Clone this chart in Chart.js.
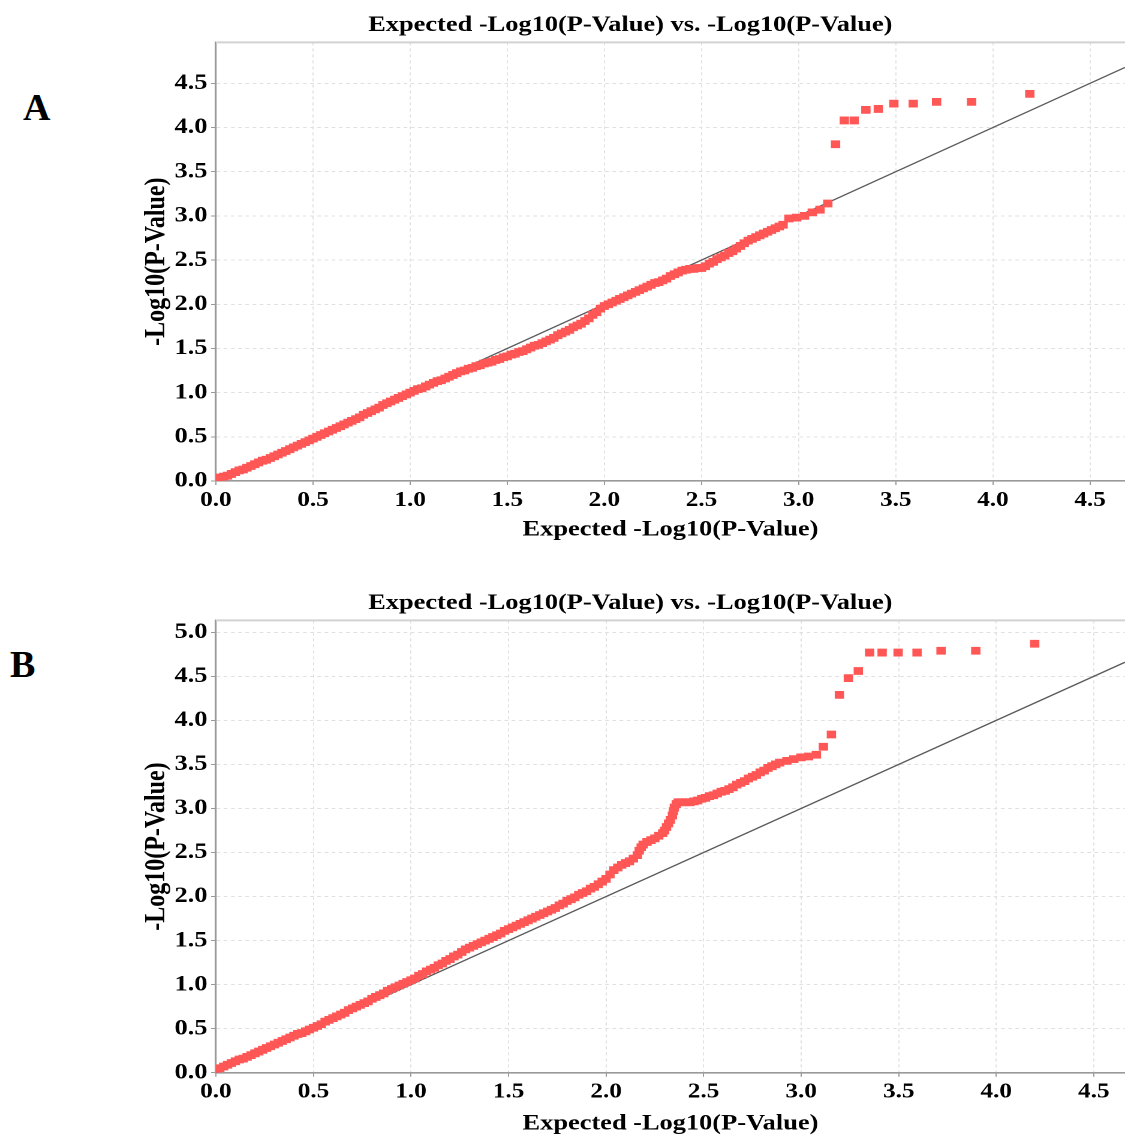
<!DOCTYPE html>
<html>
<head>
<meta charset="utf-8">
<script src="https://cdn.jsdelivr.net/npm/chart.js@4.4.1/dist/chart.umd.min.js"></script>
<style>
  html, body { margin: 0; padding: 0; background: #fff; width: 1125px; height: 1137px; overflow: hidden; }
  .panel { position: absolute; left: 0; width: 938px; height: 560px; transform-origin: 0 0; transform: scaleX(1.19936); }
  .tag { position: absolute; font: bold 38px "Liberation Serif", "Times New Roman", serif; line-height: 38px; color: #000; }
</style>
</head>
<body>
<div class="tag" style="left:23px; top:88px;">A</div>
<div class="tag" style="left:10px; top:645px;">B</div>
<div class="panel" style="top:0px;"><canvas id="qqA" style="width:938px;height:560px"></canvas></div>
<div class="panel" style="top:578px;"><canvas id="qqB" style="width:938px;height:560px"></canvas></div>
<script>
// Chart text
const chartTitle = 'Expected -Log10(P-Value) vs. -Log10(P-Value)';
const xAxisTitle = 'Expected -Log10(P-Value)';
const yAxisTitle = '-Log10(P-Value)';
const tickStep = 0.5;

// Panel A: expected vs observed -log10(p)
const expectedA = [
  0.00,0.02,0.04,0.06,0.08,0.10,0.12,0.14,0.16,0.18,
  0.20,0.22,0.24,0.26,0.28,0.30,0.32,0.34,0.36,0.38,
  0.40,0.42,0.44,0.46,0.48,0.50,0.52,0.54,0.56,0.58,
  0.60,0.62,0.64,0.66,0.68,0.70,0.72,0.74,0.76,0.78,
  0.80,0.82,0.84,0.86,0.88,0.90,0.92,0.94,0.96,0.98,
  1.00,1.02,1.04,1.06,1.08,1.10,1.12,1.14,1.16,1.18,
  1.20,1.22,1.24,1.26,1.28,1.30,1.32,1.34,1.36,1.38,
  1.40,1.42,1.44,1.46,1.48,1.50,1.52,1.54,1.56,1.58,
  1.60,1.62,1.64,1.66,1.68,1.70,1.72,1.74,1.76,1.78,
  1.80,1.82,1.84,1.86,1.88,1.90,1.92,1.94,1.96,1.98,
  2.00,2.02,2.04,2.06,2.08,2.10,2.12,2.14,2.16,2.18,
  2.20,2.22,2.24,2.26,2.28,2.30,2.32,2.34,2.36,2.38,
  2.40,2.42,2.44,2.46,2.48,2.50,2.52,2.54,2.56,2.58,
  2.60,2.62,2.64,2.66,2.68,2.70,2.72,2.74,2.76,2.78,
  2.80,2.82,2.84,2.86,2.88,2.90,2.92,
  2.95,2.99,3.03,3.07,3.11,3.15,3.19,3.235,3.286,3.346,
  3.41,3.49,3.59,3.71,3.89,4.19
];
const observedA = [
  0.03,0.04,0.05,0.06,0.08,0.10,0.12,0.13,0.15,0.17,
  0.19,0.21,0.23,0.24,0.26,0.28,0.30,0.32,0.34,0.36,
  0.38,0.40,0.42,0.44,0.46,0.48,0.50,0.52,0.54,0.56,
  0.58,0.60,0.62,0.64,0.66,0.68,0.70,0.72,0.75,0.77,
  0.79,0.81,0.83,0.86,0.88,0.90,0.92,0.94,0.96,0.98,
  1.00,1.02,1.04,1.05,1.07,1.09,1.11,1.13,1.14,1.16,
  1.18,1.20,1.22,1.24,1.25,1.27,1.28,1.30,1.31,1.33,
  1.34,1.35,1.37,1.38,1.40,1.41,1.43,1.44,1.46,1.47,
  1.49,1.51,1.53,1.54,1.56,1.58,1.60,1.62,1.65,1.67,
  1.69,1.71,1.74,1.76,1.78,1.81,1.84,1.88,1.91,1.95,
  1.98,2.00,2.02,2.04,2.06,2.08,2.10,2.12,2.14,2.16,
  2.18,2.20,2.22,2.24,2.25,2.27,2.29,2.32,2.34,2.36,
  2.38,2.39,2.40,2.40,2.41,2.41,2.43,2.46,2.48,2.51,
  2.53,2.55,2.58,2.60,2.63,2.66,2.69,2.72,2.74,2.76,
  2.78,2.80,2.82,2.84,2.86,2.88,2.90,
  2.97,2.98,3.00,3.04,3.07,3.14,3.81,4.08,4.08,4.20,
  4.21,4.27,4.27,4.29,4.29,4.38
];

// Panel B: expected vs observed -log10(p)
const expectedB = [
  0.00,0.02,0.04,0.06,0.08,0.10,0.12,0.14,0.16,0.18,
  0.20,0.22,0.24,0.26,0.28,0.30,0.32,0.34,0.36,0.38,
  0.40,0.42,0.44,0.46,0.48,0.50,0.52,0.54,0.56,0.58,
  0.60,0.62,0.64,0.66,0.68,0.70,0.72,0.74,0.76,0.78,
  0.80,0.82,0.84,0.86,0.88,0.90,0.92,0.94,0.96,0.98,
  1.00,1.02,1.04,1.06,1.08,1.10,1.12,1.14,1.16,1.18,
  1.20,1.22,1.24,1.26,1.28,1.30,1.32,1.34,1.36,1.38,
  1.40,1.42,1.44,1.46,1.48,1.50,1.52,1.54,1.56,1.58,
  1.60,1.62,1.64,1.66,1.68,1.70,1.72,1.74,1.76,1.78,
  1.80,1.82,1.84,1.86,1.88,1.90,1.92,1.94,1.96,1.98,
  2.00,2.02,2.04,2.06,2.08,2.10,2.12,2.14,2.16,2.17,
  2.18,2.19,2.21,2.23,2.25,2.27,2.29,2.30,2.31,2.32,
  2.33,2.34,2.345,2.35,2.36,2.37,2.39,2.41,2.43,2.45,
  2.47,2.49,2.51,2.53,2.55,2.57,2.59,2.61,2.63,2.65,
  2.67,2.69,2.71,2.73,2.75,2.77,2.79,2.81,2.83,2.85,
  2.87,2.89,
  2.927,2.962,2.999,3.038,3.078,3.114,3.155,3.196,3.242,3.293,
  3.351,3.415,3.497,3.594,3.717,3.895,4.197
];
const observedB = [
  0.04,0.05,0.07,0.09,0.11,0.13,0.15,0.16,0.18,0.20,
  0.22,0.24,0.26,0.28,0.30,0.32,0.34,0.36,0.38,0.40,
  0.42,0.44,0.45,0.47,0.49,0.51,0.53,0.55,0.58,0.60,
  0.62,0.64,0.66,0.68,0.71,0.73,0.75,0.77,0.79,0.81,
  0.84,0.86,0.88,0.90,0.93,0.95,0.97,0.99,1.01,1.03,
  1.05,1.07,1.10,1.12,1.15,1.17,1.19,1.22,1.24,1.27,
  1.29,1.32,1.34,1.37,1.40,1.42,1.44,1.46,1.48,1.50,
  1.52,1.54,1.56,1.58,1.61,1.63,1.65,1.67,1.69,1.71,
  1.73,1.75,1.77,1.79,1.81,1.83,1.85,1.87,1.90,1.92,
  1.95,1.97,1.99,2.02,2.04,2.06,2.09,2.11,2.14,2.17,
  2.20,2.25,2.30,2.33,2.36,2.38,2.40,2.43,2.47,2.52,
  2.56,2.59,2.62,2.64,2.66,2.69,2.72,2.75,2.79,2.83,
  2.87,2.92,2.97,3.01,3.05,3.07,3.07,3.07,3.07,3.08,
  3.09,3.11,3.12,3.14,3.15,3.17,3.19,3.20,3.22,3.24,
  3.27,3.29,3.31,3.34,3.36,3.38,3.41,3.43,3.46,3.48,
  3.50,3.52,
  3.54,3.56,3.58,3.59,3.61,3.70,3.84,4.29,4.48,4.56,
  4.77,4.77,4.77,4.77,4.79,4.79,4.87
];

// Axis ranges of each panel; the y = x reference line spans the x range
const xMaxA = 4.68, yMaxA = 4.963;
const xMaxB = 4.66, yMaxB = 5.135;

const serif = '"Liberation Serif", "Times New Roman", serif';

// Light grey upper edge of the plot frame
const frameTop = {
  id: 'frameTop',
  beforeDatasetsDraw(chart) {
    const { ctx, chartArea: a } = chart;
    ctx.save();
    ctx.strokeStyle = '#d2d2d2';
    ctx.lineWidth = 2;
    ctx.beginPath();
    ctx.moveTo(a.left, a.top);
    ctx.lineTo(a.right, a.top);
    ctx.stroke();
    ctx.restore();
  }
};

function qqChart(canvasId, expected, observed, xMax, yMax, xAxisHeight, xTitlePad) {
  const points = expected.map((x, i) => ({ x: x, y: observed[i] }));
  const diagonal = [{ x: 0, y: 0 }, { x: xMax, y: xMax }];
  return new Chart(document.getElementById(canvasId), {
    type: 'scatter',
    data: {
      datasets: [
        {
          label: 'Observed',
          data: points,
          pointStyle: 'rect',
          pointRadius: 5.5,
          pointHoverRadius: 5.5,
          backgroundColor: '#ff5656',
          borderWidth: 0,
          order: 0
        },
        {
          label: 'Expected',
          data: diagonal,
          showLine: true,
          borderColor: '#5a5a5a',
          borderWidth: 1.3,
          pointRadius: 0,
          pointHoverRadius: 0,
          fill: false,
          order: 1
        }
      ]
    },
    options: {
      responsive: false,
      animation: false,
      devicePixelRatio: 2,
      events: [],
      layout: { autoPadding: false, padding: { left: 113, right: 0, top: 0, bottom: 0 } },
      plugins: {
        legend: { display: false },
        tooltip: { enabled: false },
        title: {
          display: true,
          text: chartTitle,
          color: '#000',
          font: { family: serif, size: 22, weight: 'bold' },
          padding: { top: 12, bottom: 4 }
        }
      },
      scales: {
        x: {
          type: 'linear',
          min: 0,
          max: xMax,
          afterFit(scale) {
            scale.height = xAxisHeight;
            scale.paddingLeft = 0;
            scale.paddingRight = 0;
          },
          ticks: {
            stepSize: tickStep,
            includeBounds: false,
            autoSkip: false,
            maxRotation: 0,
            padding: 3,
            color: '#000',
            font: { family: serif, size: 21, weight: 'bold' },
            callback: v => Number(v).toFixed(1)
          },
          grid: { color: '#e0e0e0', lineWidth: 1, tickLength: 4, tickColor: '#999', tickWidth: 1 },
          border: { display: true, color: '#9a9a9a', width: 1.6, dash: [3, 3] },
          title: {
            display: true,
            text: xAxisTitle,
            color: '#000',
            font: { family: serif, size: 22, weight: 'bold' },
            padding: { top: 0, bottom: xTitlePad }
          }
        },
        y: {
          type: 'linear',
          min: 0,
          max: yMax,
          afterFit(scale) { scale.width = 67; },
          ticks: {
            stepSize: tickStep,
            includeBounds: false,
            padding: 3,
            color: '#000',
            font: { family: serif, size: 22, weight: 'bold' },
            callback: v => Number(v).toFixed(1)
          },
          grid: { color: '#e0e0e0', lineWidth: 1, tickLength: 4, tickColor: '#999', tickWidth: 1 },
          border: { display: true, color: '#9a9a9a', width: 1.6, dash: [3, 3] },
          title: {
            display: true,
            text: yAxisTitle,
            color: '#000',
            font: { family: serif, size: 24, weight: 'bold' },
            padding: { top: 3.4, bottom: 0 }
          }
        }
      }
    },
    plugins: [frameTop]
  });
}

qqChart('qqA', expectedA, observedA, xMaxA, yMaxA, 79, 16.8);
qqChart('qqB', expectedB, observedB, xMaxB, yMaxB, 65.3, 1.1);
</script>
</body>
</html>
